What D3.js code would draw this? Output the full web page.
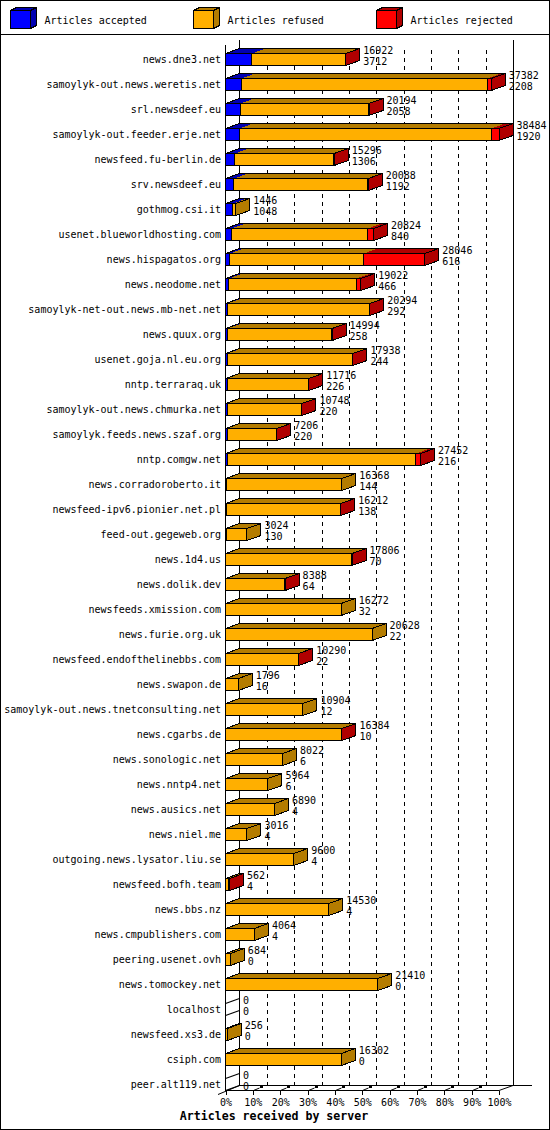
<!DOCTYPE html>
<html><head><meta charset="utf-8">
<script src="https://cdn.jsdelivr.net/npm/d3@7"></script>
<style>
body{margin:0;background:#fff}
svg{display:block}
text{font-family:"DejaVu Sans Mono","Liberation Mono",monospace;font-size:10px;fill:#000}
</style>
</head><body>
<svg id="c" width="550" height="1130"></svg>
<script>
const hosts=["news.dne3.net","samoylyk-out.news.weretis.net","srl.newsdeef.eu","samoylyk-out.feeder.erje.net","newsfeed.fu-berlin.de","srv.newsdeef.eu","gothmog.csi.it","usenet.blueworldhosting.com","news.hispagatos.org","news.neodome.net","samoylyk-net-out.news.mb-net.net","news.quux.org","usenet.goja.nl.eu.org","nntp.terraraq.uk","samoylyk-out.news.chmurka.net","samoylyk.feeds.news.szaf.org","nntp.comgw.net","news.corradoroberto.it","newsfeed-ipv6.pionier.net.pl","feed-out.gegeweb.org","news.1d4.us","news.dolik.dev","newsfeeds.xmission.com","news.furie.org.uk","newsfeed.endofthelinebbs.com","news.swapon.de","samoylyk-out.news.tnetconsulting.net","news.cgarbs.de","news.sonologic.net","news.nntp4.net","news.ausics.net","news.niel.me","outgoing.news.lysator.liu.se","newsfeed.bofh.team","news.bbs.nz","news.cmpublishers.com","peering.usenet.ovh","news.tomockey.net","localhost","newsfeed.xs3.de","csiph.com","peer.alt119.net"];
const totals=[16922,37382,20194,38484,15296,20088,1446,20824,28046,19022,20294,14994,17938,11716,10748,7206,27452,16368,16212,3024,17806,8388,16272,20628,10290,1796,10904,16384,8022,5964,6890,3016,9600,562,14530,4064,684,21410,0,256,16302,0];
const accepted=[3712,2208,2058,1920,1306,1192,1048,840,616,466,292,258,244,226,220,220,216,144,138,130,70,64,32,22,22,16,12,10,6,6,4,4,4,4,4,4,0,0,0,0,0,0];
const refused=[13110,34614,18056,35464,13900,18756,398,19184,18860,17996,19942,14686,17654,11460,10498,6966,26586,16224,16034,2894,17686,8304,16240,20606,10248,1780,10892,16354,8016,5958,6886,3012,9596,358,14526,4060,684,21410,0,256,16302,0];
const rejected=[100,560,80,1100,90,140,0,800,8570,560,60,50,40,30,30,20,650,0,40,0,50,20,0,0,20,0,0,20,0,0,0,0,0,200,0,0,0,0,0,0,0,0];
const pctTicks=[0,10,20,30,40,50,60,70,80,90,100];
const seriesNames=["Articles accepted","Articles refused","Articles rejected"];
const frontColors=["#0000ff","#ffaf00","#ff0000"];
const darkColors=["#0000b2","#b47c00","#b00000"];
const axisTitle="Articles received by server";

const W=550,H=1130;
const X0=225.5,X1=499,DX=14,DY=-5,BH=12;
const svg=d3.select("#c").attr("shape-rendering","crispEdges");

const x=d3.scaleLinear().domain([0,d3.max(totals)]).range([X0,X1]);
const pct=d3.scaleLinear().domain([0,100]).range([X0,X1]);
const y=d3.scalePoint().domain(hosts).range([53.5,53.5+25*(hosts.length-1)]);

// outer border & legend
svg.append("rect").attr("x",0.5).attr("y",0.5).attr("width",W-1).attr("height",H-1).attr("fill","#fff").attr("stroke","#000");
svg.append("line").attr("x1",0).attr("x2",W).attr("y1",34.5).attr("y2",34.5).attr("stroke","#000");
const lg=svg.append("g");
seriesNames.forEach((n,k)=>{
  const lx=10.5+183*k, ly=10.5, w=20, h=18, dx=6, dy=-3;
  lg.append("polygon").attr("points",[[lx,ly],[lx+w,ly],[lx+w+dx,ly+dy],[lx+dx,ly+dy]].join(" ")).attr("fill",darkColors[k]).attr("stroke","#000");
  lg.append("polygon").attr("points",[[lx+w,ly],[lx+w+dx,ly+dy],[lx+w+dx,ly+h+dy],[lx+w,ly+h]].join(" ")).attr("fill",darkColors[k]).attr("stroke","#000");
  lg.append("rect").attr("x",lx).attr("y",ly).attr("width",w).attr("height",h).attr("fill",frontColors[k]).attr("stroke","#000");
  lg.append("text").attr("x",lx+34).attr("y",24).text(n);
});

const yBottom=1090.5;
// gridlines on back wall
svg.append("g").selectAll("line").data(pctTicks.filter(p=>p>0&&p<100)).join("line")
  .attr("x1",p=>Math.round(pct(p)+DX)+0.5).attr("x2",p=>Math.round(pct(p)+DX)+0.5)
  .attr("y1",49.5).attr("y2",yBottom+DY).attr("stroke","#000").attr("stroke-dasharray","4,4");
// walls
svg.append("line").attr("x1",X0+DX).attr("x2",X0+DX).attr("y1",40).attr("y2",yBottom+DY).attr("stroke","#000");
svg.append("line").attr("x1",X0).attr("x2",X0).attr("y1",45).attr("y2",yBottom).attr("stroke","#000");
svg.append("line").attr("x1",Math.round(X1+DX)+0.5).attr("x2",Math.round(X1+DX)+0.5).attr("y1",40).attr("y2",yBottom+DY).attr("stroke","#000");
// floor
svg.append("line").attr("x1",X0+DX).attr("x2",532).attr("y1",yBottom+DY).attr("y2",yBottom+DY).attr("stroke","#000");
svg.append("line").attr("x1",X0).attr("x2",X1).attr("y1",yBottom).attr("y2",yBottom).attr("stroke","#000");
svg.append("line").attr("x1",218).attr("y1",yBottom+4).attr("x2",X0+DX).attr("y2",yBottom+DY).attr("stroke","#000").attr("shape-rendering","auto");
svg.append("line").attr("x1",X1).attr("y1",yBottom).attr("x2",X1+DX).attr("y2",yBottom+DY).attr("stroke","#000").attr("shape-rendering","auto");

// bars
const bars=svg.append("g");
hosts.forEach((h,i)=>{
  const t=y(h);
  const vals=[accepted[i],refused[i],rejected[i]];
  let cum=0;
  const segs=vals.map((v,k)=>{const s={k,v,a:cum,b:cum+v};cum+=v;return s;}).filter(s=>s.v>0);
  const g=bars.append("g");
  const xe=x(totals[i]);
  if(segs.length){
    segs.forEach(s=>{
      g.append("polygon").attr("points",[[x(s.a),t],[x(s.b),t],[x(s.b)+DX,t+DY],[x(s.a)+DX,t+DY]].join(" ")).attr("fill",darkColors[s.k]);
    });
    g.append("polygon").attr("points",[[X0,t],[xe,t],[xe+DX,t+DY],[X0+DX,t+DY]].join(" ")).attr("fill","none").attr("stroke","#000");
    segs.forEach(s=>{
      g.append("rect").attr("x",x(s.a)).attr("y",t).attr("width",Math.max(0,x(s.b)-x(s.a))).attr("height",BH)
        .attr("fill",frontColors[s.k]).attr("stroke","#000");
    });
    const last=segs[segs.length-1].k;
    g.append("polygon").attr("points",[[xe,t],[xe+DX,t+DY],[xe+DX,t+DY+BH],[xe,t+BH]].join(" "))
      .attr("fill",darkColors[last]).attr("stroke","#000");
  } else {
    [t,t+BH].forEach(yy=>{
      g.append("path").attr("d",`M${xe},${yy}L${xe+DX},${yy+DY}`).attr("fill","none")
        .attr("stroke","#000").attr("stroke-width",1.1).attr("shape-rendering","auto");
    });
  }
  g.append("text").attr("x",xe+DX+3.5).attr("y",t).text(totals[i]);
  g.append("text").attr("x",xe+DX+3.5).attr("y",t+11).text(accepted[i]);
  g.append("text").attr("x",221).attr("y",t+9).attr("text-anchor","end").text(h);
});

// x axis
const ax=svg.append("g").attr("transform",`translate(0,${yBottom})`)
  .call(d3.axisBottom(pct).tickValues(pctTicks).tickFormat(d=>d+"%").tickSize(4).tickSizeOuter(0).tickPadding(4));
ax.select(".domain").remove();
ax.selectAll("text").attr("font-size",null).attr("font-family",null).style("font-size","10px");
ax.selectAll(".tick line").attr("stroke","#000");
// 3d tick marks on floor
svg.append("g").selectAll("g").data(pctTicks.filter(p=>p>0&&p<100)).join("g").each(function(p){
  const xf=Math.round(pct(p))+0.5;
  d3.select(this).append("line").attr("x1",xf).attr("y1",yBottom).attr("x2",xf+6).attr("y2",yBottom-2.5).attr("stroke","#000").attr("shape-rendering","auto");
  d3.select(this).append("rect").attr("x",xf+6).attr("y",yBottom-4.5).attr("width",3).attr("height",2).attr("fill","#000");
});
svg.append("text").attr("x",274).attr("y",1120).attr("text-anchor","middle")
  .style("font-weight","bold").style("font-size","11.6px").text(axisTitle);
</script>
</body></html>
